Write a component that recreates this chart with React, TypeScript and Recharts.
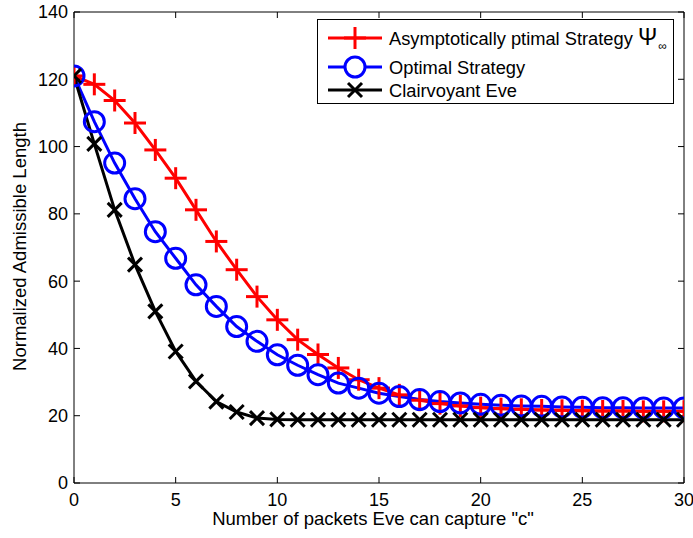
import React from 'react';
import { LineChart, Line, XAxis, YAxis, Legend } from 'recharts';

const packetsC = [0, 1, 2, 3, 4, 5, 6, 7, 8, 9, 10, 11, 12, 13, 14, 15, 16, 17, 18, 19, 20, 21, 22, 23, 24, 25, 26, 27, 28, 29, 30];
const asymptoticStrategy = [121, 118.5, 113.7, 107, 99, 90.6, 81.2, 71.8, 63.4, 55.4, 48.5, 42.6, 38.2, 34.2, 30.7, 28.2, 26.2, 24.6, 23.6, 22.9, 22.4, 22.1, 21.9, 21.7, 21.6, 21.5, 21.4, 21.4, 21.3, 21.3, 21.3];
const optimalStrategy = [121, 107.4, 95.1, 84.5, 74.7, 66.8, 58.9, 52.5, 46.5, 42.1, 38.1, 35.0, 32.2, 29.7, 28.2, 26.7, 25.7, 24.8, 24.2, 23.8, 23.4, 23.1, 22.9, 22.8, 22.6, 22.5, 22.4, 22.4, 22.3, 22.3, 22.3];
const clairvoyantEve = [121, 100.8, 81.2, 64.9, 51, 39.1, 30.2, 24.2, 21.1, 19.3, 18.9, 18.8, 18.8, 18.8, 18.8, 18.8, 18.8, 18.8, 18.8, 18.8, 18.8, 18.8, 18.8, 18.8, 18.8, 18.8, 18.8, 18.8, 18.8, 18.8, 18.8];

const xTicks = [0, 5, 10, 15, 20, 25, 30];
const yTicks = [0, 20, 40, 60, 80, 100, 120, 140];

const seriesNames = ['Asymptotically ptimal Strategy ', 'Optimal Strategy', 'Clairvoyant Eve'];

const data = packetsC.map((c, i) => ({
  c,
  asym: asymptoticStrategy[i],
  opt: optimalStrategy[i],
  clair: clairvoyantEve[i],
}));

const FONT = '"Liberation Sans", Arial, Helvetica, sans-serif';

const PlusMarker = (props: any) => {
  const { cx, cy, index } = props;
  if (cx == null || cy == null) return <g key={index} />;
  const h = 11;
  return (
    <g key={`p${index}`}>
      <line x1={cx - h} y1={cy} x2={cx + h} y2={cy} stroke="#ff0000" strokeWidth={3} />
      <line x1={cx} y1={cy - h} x2={cx} y2={cy + h} stroke="#ff0000" strokeWidth={3} />
    </g>
  );
};

const CircleMarker = (props: any) => {
  const { cx, cy, index } = props;
  if (cx == null || cy == null) return <g key={index} />;
  return <circle key={`c${index}`} cx={cx} cy={cy} r={10} fill="none" stroke="#0000ff" strokeWidth={3} />;
};

const XMarker = (props: any) => {
  const { cx, cy, index } = props;
  if (cx == null || cy == null) return <g key={index} />;
  const h = 7;
  return (
    <g key={`x${index}`}>
      <line x1={cx - h} y1={cy - h} x2={cx + h} y2={cy + h} stroke="#000" strokeWidth={3} />
      <line x1={cx - h} y1={cy + h} x2={cx + h} y2={cy - h} stroke="#000" strokeWidth={3} />
    </g>
  );
};

const LegendBox = () => {
  const rows = [
    { y: 19, color: '#ff0000', kind: 'plus', name: seriesNames[0], sym: 'Ψ', sub: '∞' },
    { y: 48, color: '#0000ff', kind: 'circle', name: seriesNames[1] },
    { y: 71, color: '#000000', kind: 'x', name: seriesNames[2] },
  ];
  return (
    <svg width={357} height={85} style={{ display: 'block' }}>
      <rect x={0.5} y={0.5} width={356} height={84} fill="#fff" stroke="#000" strokeWidth={1} />
      {rows.map((r, i) => (
        <g key={i}>
          <line x1={11} y1={r.y} x2={65} y2={r.y} stroke={r.color} strokeWidth={3} />
          {r.kind === 'plus' && (
            <g>
              <line x1={27} y1={r.y} x2={49} y2={r.y} stroke={r.color} strokeWidth={3} />
              <line x1={38} y1={r.y - 11} x2={38} y2={r.y + 11} stroke={r.color} strokeWidth={3} />
            </g>
          )}
          {r.kind === 'circle' && <circle cx={38} cy={r.y} r={10} fill="#fff" stroke={r.color} strokeWidth={3} />}
          {r.kind === 'x' && (
            <g>
              <line x1={31} y1={r.y - 7} x2={45} y2={r.y + 7} stroke={r.color} strokeWidth={3} />
              <line x1={31} y1={r.y + 7} x2={45} y2={r.y - 7} stroke={r.color} strokeWidth={3} />
            </g>
          )}
          <text x={72} y={r.y} dy="0.36em" fontFamily={FONT} fontSize={18.3} fill="#000" xmlSpace="preserve">
            {r.name}
            {r.sym && <tspan fontSize={23}>{r.sym}</tspan>}
            {r.sub && (
              <tspan dx={1} dy={5} fontSize={12}>{r.sub}</tspan>
            )}
          </text>
        </g>
      ))}
    </svg>
  );
};

const YLabel = (props: any) => {
  const vb = props.viewBox || {};
  const x = (vb.x ?? 0) - 54;
  const y = (vb.y ?? 0) + (vb.height ?? 0) / 2 - 1;
  return (
    <text x={x} y={y} transform={`rotate(-90 ${x} ${y})`} textAnchor="middle" dy="0.36em" fontFamily={FONT} fontSize={18.5} fill="#000">
      Normalized Admissible Length
    </text>
  );
};

const XLabel = (props: any) => {
  const vb = props.viewBox || {};
  const x = (vb.x ?? 0) + (vb.width ?? 0) / 2 - 6;
  const y = (vb.y ?? 0) + 35.5;
  return (
    <text x={x} y={y} textAnchor="middle" dy="0.36em" fontFamily={FONT} fontSize={18.5} fill="#000">
      Number of packets Eve can capture "c"
    </text>
  );
};

const EmptyTick = () => <g />;

export default function App() {
  const tickStyle = { fontFamily: FONT, fontSize: 18, fill: '#000' };
  return (
    <div style={{ position: 'absolute', left: 0, top: 0, width: 693, height: 538, background: '#fff' }}>
      <LineChart width={693} height={538} data={data} margin={{ top: 11, right: 8, bottom: 54, left: 73 }}>
        <XAxis
          dataKey="c"
          type="number"
          domain={[0, 30]}
          ticks={xTicks}
          height={1}
          tickSize={-6}
          tickMargin={16}
          axisLine={{ stroke: '#000', strokeWidth: 1 }}
          tickLine={{ stroke: '#000', strokeWidth: 1 }}
          tick={tickStyle}
          interval={0}
          allowDataOverflow
          label={<XLabel />}
        />
        <XAxis
          xAxisId="top"
          orientation="top"
          dataKey="c"
          type="number"
          domain={[0, 30]}
          ticks={xTicks}
          height={1}
          tickSize={-6}
          axisLine={{ stroke: '#000', strokeWidth: 1 }}
          tickLine={{ stroke: '#000', strokeWidth: 1 }}
          tick={<EmptyTick />}
          interval={0}
          allowDataOverflow
        />
        <YAxis
          type="number"
          domain={[0, 140]}
          ticks={yTicks}
          width={1}
          tickSize={-6}
          tickMargin={12}
          axisLine={{ stroke: '#000', strokeWidth: 1 }}
          tickLine={{ stroke: '#000', strokeWidth: 1 }}
          tick={tickStyle}
          interval={0}
          allowDataOverflow
          label={<YLabel />}
        />
        <YAxis
          yAxisId="right"
          orientation="right"
          type="number"
          domain={[0, 140]}
          ticks={yTicks}
          width={1}
          tickSize={-6}
          axisLine={{ stroke: '#000', strokeWidth: 1 }}
          tickLine={{ stroke: '#000', strokeWidth: 1 }}
          tick={<EmptyTick />}
          interval={0}
          allowDataOverflow
        />
        <Legend
          layout="vertical"
          align="center"
          verticalAlign="middle"
          content={() => <LegendBox />}
          wrapperStyle={{ position: 'absolute', left: 317, top: 19, width: 357, height: 85 }}
        />
        <Line
          type="linear"
          dataKey="asym"
          name={seriesNames[0]}
          stroke="#ff0000"
          strokeWidth={3}
          dot={PlusMarker}
          activeDot={false}
          isAnimationActive={false}
        />
        <Line
          type="linear"
          dataKey="opt"
          name={seriesNames[1]}
          stroke="#0000ff"
          strokeWidth={3}
          dot={CircleMarker}
          activeDot={false}
          isAnimationActive={false}
        />
        <Line
          type="linear"
          dataKey="clair"
          name={seriesNames[2]}
          stroke="#000000"
          strokeWidth={3}
          dot={XMarker}
          activeDot={false}
          isAnimationActive={false}
        />
      </LineChart>
    </div>
  );
}
